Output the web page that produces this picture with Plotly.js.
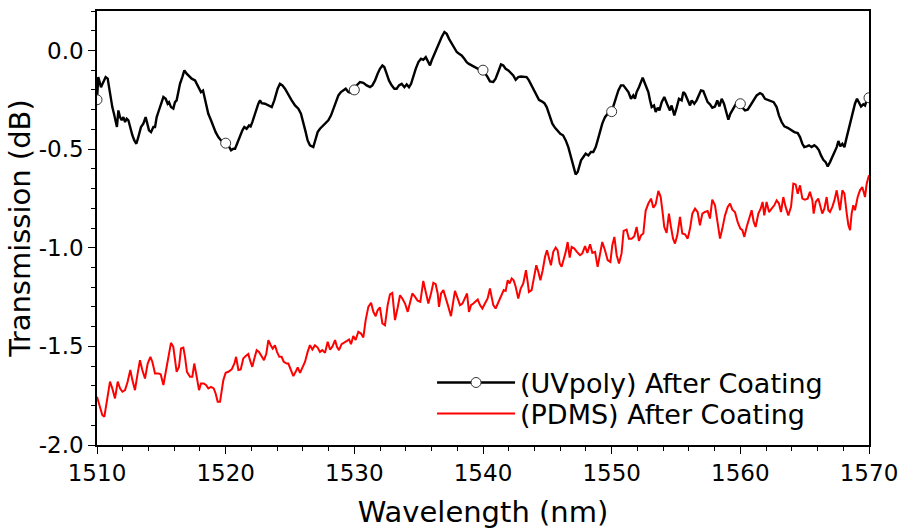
<!DOCTYPE html>
<html>
<head>
<meta charset="utf-8">
<script src="https://cdn.plot.ly/plotly-3.0.1.min.js"></script>
<style>html,body{margin:0;padding:0;background:#fff;}#chart{width:900px;height:529px;}</style>
</head>
<body>
<div id="chart"></div>
<script>
// (UVpoly) After Coating — wavelength (nm) and transmission (dB)
const uvX = [1510.00,1510.10,1510.31,1510.49,1510.67,1510.83,1510.93,1511.09,1511.19,1511.32,1511.45,1511.55,1511.66,1511.79,1511.92,1512.05,1512.18,1512.31,1512.44,1512.57,1512.75,1512.90,1513.06,1513.21,1513.42,1513.60,1513.78,1513.91,1514.04,1514.20,1514.38,1514.51,1514.64,1514.77,1514.90,1515.03,1515.16,1515.34,1515.49,1515.60,1515.75,1515.93,1516.06,1516.19,1516.32,1516.45,1516.63,1516.79,1516.97,1517.10,1517.36,1517.62,1517.75,1517.93,1518.08,1518.24,1518.39,1518.52,1518.65,1518.86,1519.04,1519.22,1519.43,1519.64,1519.82,1520.00,1520.21,1520.42,1520.60,1520.73,1520.88,1520.99,1521.14,1521.30,1521.45,1521.63,1521.82,1521.94,1522.07,1522.23,1522.39,1522.54,1522.67,1522.80,1523.06,1523.32,1523.58,1523.78,1523.89,1524.04,1524.22,1524.41,1524.61,1524.82,1525.13,1525.39,1525.65,1525.85,1526.04,1526.22,1526.37,1526.55,1526.81,1526.99,1527.15,1527.33,1527.51,1527.72,1527.98,1528.19,1528.37,1528.55,1528.76,1528.96,1529.14,1529.33,1529.53,1529.79,1530.00,1530.18,1530.44,1530.70,1530.96,1531.22,1531.40,1531.61,1531.81,1531.99,1532.18,1532.33,1532.51,1532.69,1532.90,1533.11,1533.29,1533.47,1533.68,1533.89,1534.07,1534.25,1534.41,1534.59,1534.77,1534.98,1535.18,1535.36,1535.55,1535.75,1535.88,1536.01,1536.22,1536.40,1536.58,1536.79,1537.00,1537.18,1537.36,1537.57,1537.77,1537.96,1538.14,1538.34,1538.55,1538.73,1538.91,1539.12,1539.33,1539.51,1539.75,1540.00,1540.21,1540.36,1540.54,1540.80,1540.98,1541.19,1541.40,1541.58,1541.76,1541.97,1542.18,1542.35,1542.54,1542.74,1542.95,1543.21,1543.39,1543.57,1543.78,1543.99,1544.17,1544.35,1544.56,1544.77,1544.95,1545.08,1545.21,1545.39,1545.60,1545.80,1546.01,1546.22,1546.43,1546.63,1546.79,1546.94,1547.10,1547.20,1547.36,1547.46,1547.62,1547.80,1547.98,1548.19,1548.39,1548.57,1548.76,1548.91,1549.09,1549.27,1549.48,1549.69,1550.00,1550.13,1550.31,1550.52,1550.72,1550.91,1551.09,1551.30,1551.50,1551.68,1551.81,1551.94,1552.12,1552.28,1552.41,1552.54,1552.72,1552.85,1552.98,1553.11,1553.29,1553.42,1553.58,1553.71,1553.89,1554.09,1554.30,1554.53,1554.66,1554.87,1555.05,1555.23,1555.44,1555.57,1555.70,1555.91,1556.09,1556.22,1556.42,1556.60,1556.79,1556.94,1557.12,1557.30,1557.46,1557.64,1557.82,1558.03,1558.21,1558.37,1558.55,1558.73,1558.89,1559.07,1559.22,1559.38,1559.58,1559.74,1560.00,1560.16,1560.36,1560.57,1560.78,1561.01,1561.27,1561.53,1561.71,1561.92,1562.13,1562.38,1562.59,1562.82,1563.00,1563.21,1563.42,1563.68,1563.94,1564.20,1564.46,1564.64,1564.82,1564.97,1565.16,1565.34,1565.54,1565.75,1565.93,1566.11,1566.27,1566.45,1566.63,1566.79,1566.97,1567.10,1567.31,1567.49,1567.62,1567.77,1567.93,1568.09,1568.24,1568.40,1568.55,1568.71,1568.91,1569.07,1569.23,1569.38,1569.56,1569.69,1569.85,1570.00];
const uvY = [-0.25,-0.135,-0.186,-0.160,-0.135,-0.143,-0.186,-0.245,-0.287,-0.321,-0.354,-0.388,-0.304,-0.338,-0.354,-0.338,-0.363,-0.346,-0.354,-0.388,-0.430,-0.456,-0.473,-0.439,-0.388,-0.371,-0.338,-0.371,-0.405,-0.414,-0.388,-0.388,-0.338,-0.312,-0.287,-0.253,-0.236,-0.245,-0.270,-0.262,-0.287,-0.295,-0.262,-0.253,-0.203,-0.169,-0.135,-0.101,-0.118,-0.127,-0.143,-0.152,-0.169,-0.186,-0.211,-0.203,-0.253,-0.287,-0.321,-0.354,-0.388,-0.414,-0.439,-0.456,-0.464,-0.47,-0.481,-0.506,-0.498,-0.498,-0.473,-0.447,-0.430,-0.405,-0.388,-0.397,-0.380,-0.385,-0.363,-0.329,-0.304,-0.270,-0.253,-0.267,-0.270,-0.279,-0.287,-0.253,-0.228,-0.194,-0.169,-0.177,-0.194,-0.219,-0.253,-0.279,-0.295,-0.321,-0.363,-0.414,-0.456,-0.481,-0.490,-0.456,-0.414,-0.397,-0.385,-0.371,-0.354,-0.329,-0.295,-0.262,-0.228,-0.211,-0.203,-0.194,-0.211,-0.216,-0.20,-0.177,-0.160,-0.164,-0.177,-0.186,-0.177,-0.152,-0.118,-0.093,-0.076,-0.084,-0.118,-0.152,-0.177,-0.194,-0.194,-0.177,-0.169,-0.186,-0.172,-0.186,-0.169,-0.127,-0.093,-0.059,-0.042,-0.047,-0.034,-0.059,-0.076,-0.051,-0.017,0.008,0.034,0.068,0.093,0.084,0.059,0.034,0.017,-0.008,-0.017,-0.025,-0.042,-0.059,-0.068,-0.076,-0.084,-0.093,-0.098,-0.10,-0.118,-0.135,-0.157,-0.160,-0.143,-0.101,-0.071,-0.076,-0.093,-0.101,-0.118,-0.127,-0.149,-0.135,-0.132,-0.132,-0.135,-0.152,-0.177,-0.203,-0.228,-0.250,-0.258,-0.267,-0.287,-0.312,-0.338,-0.371,-0.392,-0.408,-0.422,-0.430,-0.456,-0.490,-0.532,-0.574,-0.616,-0.628,-0.616,-0.591,-0.557,-0.540,-0.523,-0.532,-0.515,-0.515,-0.490,-0.456,-0.414,-0.371,-0.338,-0.321,-0.31,-0.279,-0.245,-0.203,-0.177,-0.177,-0.194,-0.211,-0.245,-0.228,-0.245,-0.211,-0.186,-0.160,-0.138,-0.160,-0.186,-0.211,-0.253,-0.287,-0.279,-0.312,-0.290,-0.304,-0.262,-0.236,-0.270,-0.304,-0.279,-0.329,-0.290,-0.245,-0.253,-0.211,-0.219,-0.253,-0.279,-0.253,-0.270,-0.253,-0.228,-0.203,-0.206,-0.233,-0.262,-0.273,-0.290,-0.284,-0.253,-0.284,-0.245,-0.270,-0.312,-0.351,-0.321,-0.304,-0.279,-0.262,-0.27,-0.290,-0.304,-0.300,-0.279,-0.253,-0.228,-0.216,-0.223,-0.245,-0.250,-0.257,-0.262,-0.287,-0.329,-0.363,-0.385,-0.392,-0.402,-0.414,-0.419,-0.439,-0.473,-0.490,-0.486,-0.481,-0.490,-0.481,-0.490,-0.506,-0.532,-0.554,-0.566,-0.588,-0.566,-0.549,-0.515,-0.490,-0.459,-0.486,-0.473,-0.490,-0.447,-0.405,-0.354,-0.312,-0.270,-0.245,-0.262,-0.284,-0.273,-0.279,-0.245,-0.24];
// wavelengths where the UVpoly curve carries a circle marker
const uvMarkerWavelengths = [1510,1520,1530,1540,1550,1560,1570];

// (PDMS) After Coating
const pdmsX = [1510.00,1510.23,1510.41,1510.57,1510.75,1511.01,1511.19,1511.40,1511.61,1511.79,1511.97,1512.18,1512.38,1512.59,1512.75,1512.95,1513.16,1513.34,1513.52,1513.73,1513.94,1514.15,1514.30,1514.51,1514.77,1514.95,1515.16,1515.34,1515.54,1515.75,1515.93,1516.06,1516.19,1516.37,1516.53,1516.71,1516.84,1516.99,1517.23,1517.41,1517.56,1517.75,1517.93,1518.08,1518.29,1518.47,1518.65,1518.86,1519.07,1519.22,1519.38,1519.56,1519.69,1519.82,1520.00,1520.21,1520.47,1520.68,1520.81,1520.99,1521.17,1521.37,1521.56,1521.76,1521.89,1522.07,1522.23,1522.41,1522.59,1522.80,1522.98,1523.16,1523.32,1523.50,1523.66,1523.83,1523.99,1524.17,1524.35,1524.51,1524.74,1524.87,1525.08,1525.26,1525.44,1525.60,1525.78,1525.96,1526.17,1526.37,1526.55,1526.74,1526.94,1527.15,1527.33,1527.51,1527.72,1527.93,1528.11,1528.29,1528.50,1528.65,1528.81,1529.01,1529.22,1529.43,1529.59,1529.74,1529.92,1530.10,1530.31,1530.52,1530.70,1530.88,1531.09,1531.30,1531.48,1531.66,1531.81,1531.99,1532.18,1532.38,1532.59,1532.77,1532.95,1533.16,1533.37,1533.55,1533.73,1533.94,1534.15,1534.33,1534.51,1534.72,1534.92,1535.13,1535.23,1535.36,1535.55,1535.75,1535.96,1536.14,1536.32,1536.48,1536.58,1536.74,1536.92,1537.10,1537.31,1537.51,1537.70,1537.82,1538.03,1538.21,1538.40,1538.60,1538.76,1538.91,1539.07,1539.25,1539.43,1539.59,1539.77,1539.95,1540.15,1540.36,1540.54,1540.67,1540.80,1540.98,1541.19,1541.40,1541.61,1541.76,1541.92,1542.07,1542.23,1542.38,1542.54,1542.74,1542.93,1543.13,1543.34,1543.47,1543.57,1543.78,1543.96,1544.14,1544.30,1544.46,1544.64,1544.82,1544.97,1545.13,1545.28,1545.46,1545.65,1545.80,1545.96,1546.11,1546.27,1546.43,1546.58,1546.74,1546.89,1547.10,1547.30,1547.54,1547.72,1547.93,1548.11,1548.32,1548.50,1548.71,1548.91,1549.09,1549.27,1549.48,1549.69,1549.90,1550.05,1550.21,1550.39,1550.57,1550.77,1550.93,1551.16,1551.34,1551.55,1551.76,1551.94,1552.12,1552.28,1552.46,1552.64,1552.85,1553.06,1553.24,1553.42,1553.63,1553.81,1553.94,1554.09,1554.27,1554.45,1554.61,1554.77,1554.92,1555.10,1555.31,1555.49,1555.70,1555.91,1556.09,1556.27,1556.48,1556.68,1556.86,1557.05,1557.25,1557.46,1557.64,1557.82,1558.03,1558.24,1558.42,1558.60,1558.81,1559.02,1559.20,1559.38,1559.58,1559.79,1560.00,1560.16,1560.31,1560.49,1560.67,1560.88,1561.04,1561.19,1561.40,1561.58,1561.73,1561.86,1562.04,1562.23,1562.43,1562.64,1562.82,1563.00,1563.16,1563.34,1563.52,1563.73,1563.94,1564.12,1564.30,1564.46,1564.64,1564.82,1565.02,1565.23,1565.41,1565.60,1565.70,1565.86,1566.06,1566.22,1566.37,1566.53,1566.71,1566.84,1566.97,1567.15,1567.31,1567.49,1567.62,1567.75,1567.93,1568.09,1568.27,1568.40,1568.53,1568.65,1568.78,1568.91,1569.12,1569.30,1569.48,1569.69,1569.82,1570.00];
const pdmsY = [-1.755,-1.806,-1.848,-1.857,-1.789,-1.679,-1.713,-1.764,-1.679,-1.713,-1.730,-1.722,-1.679,-1.620,-1.671,-1.722,-1.637,-1.570,-1.620,-1.663,-1.587,-1.553,-1.578,-1.637,-1.637,-1.641,-1.696,-1.629,-1.553,-1.482,-1.502,-1.570,-1.629,-1.604,-1.511,-1.506,-1.553,-1.629,-1.654,-1.654,-1.587,-1.654,-1.722,-1.688,-1.688,-1.696,-1.713,-1.705,-1.713,-1.739,-1.781,-1.781,-1.722,-1.671,-1.634,-1.629,-1.617,-1.587,-1.553,-1.620,-1.617,-1.561,-1.549,-1.539,-1.570,-1.604,-1.561,-1.519,-1.528,-1.553,-1.570,-1.536,-1.468,-1.494,-1.511,-1.494,-1.528,-1.553,-1.553,-1.578,-1.587,-1.587,-1.624,-1.651,-1.629,-1.607,-1.634,-1.604,-1.578,-1.528,-1.494,-1.516,-1.494,-1.506,-1.528,-1.519,-1.533,-1.477,-1.516,-1.502,-1.468,-1.502,-1.519,-1.489,-1.482,-1.472,-1.465,-1.489,-1.448,-1.468,-1.426,-1.435,-1.455,-1.367,-1.300,-1.279,-1.325,-1.347,-1.317,-1.303,-1.384,-1.393,-1.291,-1.236,-1.229,-1.367,-1.303,-1.241,-1.257,-1.283,-1.325,-1.274,-1.232,-1.249,-1.269,-1.274,-1.215,-1.168,-1.224,-1.283,-1.232,-1.178,-1.185,-1.232,-1.300,-1.232,-1.215,-1.249,-1.300,-1.347,-1.266,-1.219,-1.257,-1.291,-1.283,-1.257,-1.232,-1.325,-1.291,-1.283,-1.274,-1.262,-1.291,-1.308,-1.283,-1.257,-1.207,-1.257,-1.291,-1.308,-1.274,-1.241,-1.215,-1.219,-1.165,-1.181,-1.156,-1.165,-1.198,-1.257,-1.207,-1.181,-1.114,-1.173,-1.224,-1.215,-1.148,-1.089,-1.122,-1.165,-1.114,-1.046,-1.013,-1.046,-1.089,-1.021,-0.999,-1.013,-1.080,-1.097,-1.063,-1.021,-0.971,-1.050,-0.996,-1.004,-1.021,-1.038,-1.029,-0.992,-1.026,-0.982,-1.026,-1.021,-1.097,-1.029,-0.971,-1.013,-1.063,-1.072,-0.987,-0.945,-1.038,-1.080,-1.029,-0.915,-0.908,-0.954,-0.954,-0.942,-0.895,-0.965,-0.937,-0.928,-0.813,-0.776,-0.751,-0.797,-0.780,-0.712,-0.743,-0.810,-0.895,-0.925,-0.827,-0.895,-0.954,-0.979,-0.937,-0.844,-0.928,-0.932,-0.954,-0.903,-0.827,-0.802,-0.819,-0.886,-0.827,-0.819,-0.814,-0.852,-0.756,-0.785,-0.878,-0.954,-0.903,-0.836,-0.793,-0.776,-0.807,-0.819,-0.869,-0.903,-0.911,-0.945,-0.895,-0.852,-0.810,-0.869,-0.895,-0.827,-0.802,-0.768,-0.836,-0.768,-0.819,-0.802,-0.785,-0.760,-0.776,-0.819,-0.743,-0.793,-0.836,-0.793,-0.675,-0.679,-0.726,-0.684,-0.751,-0.756,-0.751,-0.717,-0.760,-0.827,-0.768,-0.751,-0.793,-0.827,-0.802,-0.743,-0.810,-0.819,-0.793,-0.760,-0.709,-0.768,-0.810,-0.709,-0.726,-0.827,-0.886,-0.911,-0.827,-0.785,-0.810,-0.743,-0.709,-0.692,-0.743,-0.675,-0.633];

const seriesNames = ['(UVpoly) After Coating', '(PDMS) After Coating'];
const xTickVals = [1510,1520,1530,1540,1550,1560,1570];
const xTickLabels = ['1510','1520','1530','1540','1550','1560','1570'];
const yTickVals = [-2.0,-1.5,-1.0,-0.5,0.0];
const yTickLabels = ['-2.0','-1.5','-1.0','-0.5','0.0'];

const isMarked = uvX.map(x => uvMarkerWavelengths.some(m => Math.abs(m - x) < 1e-6));
const clear = 'rgba(0,0,0,0)';

const traces = [
  {
    x: uvX, y: uvY, name: seriesNames[0], type: 'scatter', mode: 'lines+markers',
    legend: 'legend',
    line: {color: '#000000', width: 2.4},
    marker: {
      symbol: 'circle', size: 10,
      color: isMarked.map(m => m ? '#ffffff' : clear),
      line: {width: 1, color: isMarked.map(m => m ? '#333333' : clear)}
    }
  },
  {
    x: pdmsX, y: pdmsY, name: seriesNames[1], type: 'scatter', mode: 'lines',
    legend: 'legend2',
    line: {color: '#ff0000', width: 2}
  }
];

const font = 'DejaVu Sans, Verdana, sans-serif';
const axisCommon = {
  showgrid: false, zeroline: false,
  showline: true, linecolor: '#000000', linewidth: 1.5, mirror: true,
  ticks: 'outside', ticklen: 7, tickwidth: 1.3, tickcolor: '#000000',
  tickfont: {family: font, size: 23, color: '#000000'},
  minor: {ticks: 'outside', ticklen: 4, tickwidth: 1.2, tickcolor: '#000000', showgrid: false}
};

const legendCommon = {
  x: 0.434, xanchor: 'left', yanchor: 'middle',
  bgcolor: 'rgba(0,0,0,0)', borderwidth: 0,
  font: {family: font, size: 27, color: '#000000'},
  itemwidth: 78
};

const layout = {
  width: 900, height: 529,
  margin: {l: 97, r: 31, t: 11, b: 84},
  paper_bgcolor: '#ffffff', plot_bgcolor: '#ffffff',
  font: {family: font, color: '#000000'},
  showlegend: true,
  xaxis: Object.assign({}, axisCommon, {
    range: [1510, 1570], tickmode: 'array', tickvals: xTickVals, ticktext: xTickLabels,
    minor: Object.assign({}, axisCommon.minor, {tickmode: 'linear', tick0: 1510, dtick: 2}),
    title: {text: 'Wavelength (nm)', font: {family: font, size: 29, color: '#000000'}, standoff: 16}
  }),
  yaxis: Object.assign({}, axisCommon, {
    range: [-2.0, 0.2], tickmode: 'array', tickvals: yTickVals, ticktext: yTickLabels,
    minor: Object.assign({}, axisCommon.minor, {tickmode: 'linear', tick0: 0, dtick: 0.1}),
    title: {text: 'Transmission (dB)', font: {family: font, size: 29, color: '#000000'}, standoff: 0}
  }),
  legend: Object.assign({}, legendCommon, {y: 0.143}),
  legend2: Object.assign({}, legendCommon, {y: 0.0714})
};

Plotly.newPlot('chart', traces, layout, {displayModeBar: false, responsive: false});
</script>
</body>
</html>
